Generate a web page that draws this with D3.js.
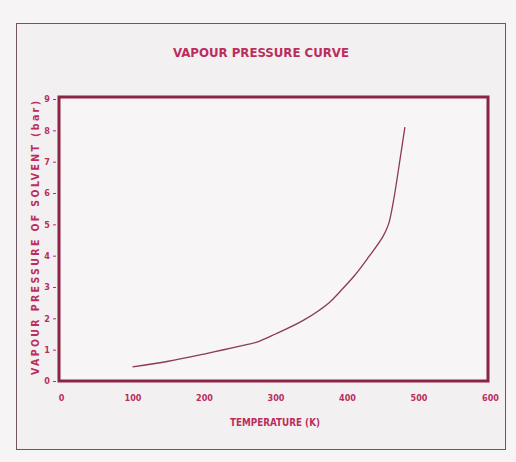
<!DOCTYPE html>
<html>
<head>
<meta charset="utf-8">
<script src="https://cdn.jsdelivr.net/npm/d3@7"></script>
<style>
  body { margin: 0; background: #f6f4f5; }
  text { font-family: "DejaVu Sans Condensed", "Liberation Sans", sans-serif; font-weight: bold; }
</style>
</head>
<body>
<svg id="chart" width="516" height="462"></svg>
<script>
// values
var temps     = [100, 150, 200, 250, 275, 300, 340, 375, 390, 410, 430, 450, 458, 465, 470, 475, 481];
var pressures = [0.45, 0.63, 0.86, 1.11, 1.25, 1.5, 1.95, 2.5, 2.85, 3.35, 3.95, 4.6, 5.0, 5.75, 6.45, 7.2, 8.1];
var xTicks = [0, 100, 200, 300, 400, 500, 600];
var yTicks = [0, 1, 2, 3, 4, 5, 6, 7, 8, 9];

var svg = d3.select('#chart');
var ink = '#8c2447', txt = '#bb2e5c';

var data = temps.map((t, i) => ({ t: t, p: pressures[i] }));

// outer thin box
svg.append('rect')
  .attr('x', 16.5).attr('y', 23.5).attr('width', 489).attr('height', 426)
  .attr('fill', '#f2f0f1').attr('stroke', '#6f5560').attr('stroke-width', 1);

var plotL = 59, plotR = 488, plotT = 97, plotB = 381;

var x = d3.scaleLinear().domain([0, 600]).range([plotL + 2, plotR + 2]);
var y = d3.scaleLinear().domain([0, 9]).range([plotB, plotT + 2]);

svg.append('text')
  .attr('x', 261).attr('y', 57)
  .attr('text-anchor', 'middle')
  .attr('font-size', 13)
  .attr('fill', txt)
  .attr('textLength', 176)
  .attr('lengthAdjust', 'spacingAndGlyphs')
  .text('VAPOUR PRESSURE CURVE');

// frame
svg.append('rect')
  .attr('x', plotL).attr('y', plotT).attr('width', plotR - plotL).attr('height', plotB - plotT)
  .attr('fill', '#f7f5f6').attr('stroke', ink).attr('stroke-width', 3);

var xAxis = d3.axisBottom(x).tickValues(xTicks).tickSize(0).tickPadding(14);
var gx = svg.append('g').attr('transform', 'translate(0,' + plotB + ')').call(xAxis);
gx.select('.domain').remove();
gx.selectAll('text').attr('fill', txt).attr('font-size', 9)
  .attr('font-family', '"DejaVu Sans Condensed", sans-serif');

var yAxis = d3.axisLeft(y).tickValues(yTicks).tickSize(3).tickPadding(3);
var gy = svg.append('g').attr('transform', 'translate(' + (plotL - 3) + ',0)').call(yAxis);
gy.select('.domain').remove();
gy.selectAll('line').attr('stroke', txt);
gy.selectAll('text').attr('fill', txt).attr('font-size', 9)
  .attr('font-family', '"DejaVu Sans Condensed", sans-serif');

svg.append('text')
  .attr('x', 275).attr('y', 426)
  .attr('text-anchor', 'middle')
  .attr('font-size', 11)
  .attr('fill', txt)
  .attr('textLength', 90)
  .attr('lengthAdjust', 'spacingAndGlyphs')
  .text('TEMPERATURE (K)');

svg.append('text')
  .attr('transform', 'translate(39,238) rotate(-90)')
  .attr('text-anchor', 'middle')
  .attr('font-size', 10.5)
  .attr('fill', txt)
  .attr('textLength', 274)
  .text('VAPOUR PRESSURE OF SOLVENT (bar)');

var line = d3.line()
  .x(d => x(d.t))
  .y(d => y(d.p))
  .curve(d3.curveCatmullRom);

svg.append('path')
  .datum(data)
  .attr('d', line)
  .attr('fill', 'none')
  .attr('stroke', '#8a3a58')
  .attr('stroke-width', 1.3);
</script>
</body>
</html>
